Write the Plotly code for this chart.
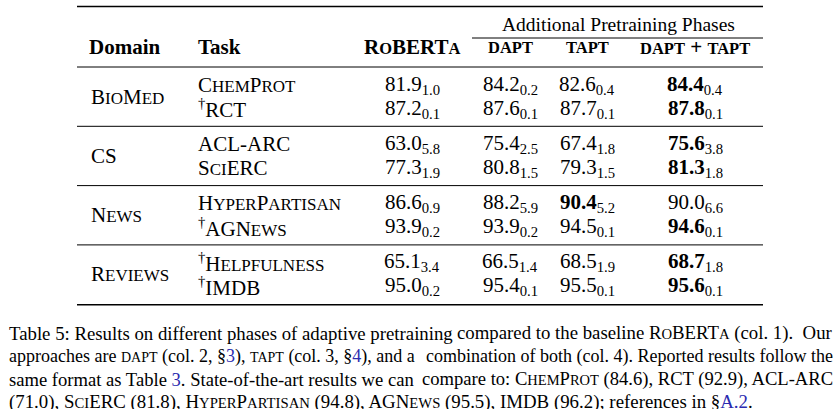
import plotly.graph_objects as go

# ---------------- data ----------------
domains = ["BioMed", "CS", "News", "Reviews"]
tasks = ["ChemProt", "RCT", "ACL-ARC", "SciERC", "HyperPartisan", "AGNews", "Helpfulness", "IMDB"]
task_smallcaps = [True, False, False, True, True, True, True, False]
dagger = [False, True, False, False, False, True, True, True]
columns = ["RoBERTa", "DAPT", "TAPT", "DAPT + TAPT"]
roberta_mean = [81.9, 87.2, 63.0, 77.3, 86.6, 93.9, 65.1, 95.0]
roberta_std = [1.0, 0.1, 5.8, 1.9, 0.9, 0.2, 3.4, 0.2]
dapt_mean = [84.2, 87.6, 75.4, 80.8, 88.2, 93.9, 66.5, 95.4]
dapt_std = [0.2, 0.1, 2.5, 1.5, 5.9, 0.2, 1.4, 0.1]
tapt_mean = [82.6, 87.7, 67.4, 79.3, 90.4, 94.5, 68.5, 95.5]
tapt_std = [0.4, 0.1, 1.8, 1.5, 5.2, 0.1, 1.9, 0.1]
both_mean = [84.4, 87.8, 75.6, 81.3, 90.0, 94.6, 68.7, 95.6]
both_std = [0.4, 0.1, 3.8, 1.8, 6.6, 0.1, 1.8, 0.1]

# ---------------- layout constants ----------------
W, H = 839, 409
FONT = "Liberation Serif, Times New Roman, serif"
FS = 21          # table font size
SC = 17          # small-caps size in table
HSC = 16.5       # small-caps size in header (bold)
GFS = 19.5       # group header size
CSC_RATIO = 0.78 # caption small caps relative size
BLACK = "#000000"
LINK = "#2b2bb0"

x_left, x_right = 77, 763
x_domain, x_task = 87, 196
col_x = [412, 510, 587, 695]
x_group = 618.5
y_top, y_cmid, y_head_group, y_head = 6.5, 38, 24, 47
rule0, group_h = 67, 59.3
row_off = [17.5, 41.5]


def smallcaps(s, small):
    out, run = [], ""
    for ch in s:
        if ch.islower():
            run += ch.upper()
        else:
            if run:
                out.append(f"<span style='font-size:{small}px'>{run}</span>")
                run = ""
            out.append(ch)
    if run:
        out.append(f"<span style='font-size:{small}px'>{run}</span>")
    return "".join(out)


def allsmall(s, small):
    return f"<span style='font-size:{small}px'>{s.upper()}</span>"


fig = go.Figure()
fig.add_trace(go.Scatter(x=[0, W], y=[0, H], mode="markers", marker=dict(opacity=0),
                         hoverinfo="skip", showlegend=False))

ann = []


def add(text, x, y, xanchor="left", size=FS, color=BLACK):
    ann.append(dict(text=text, x=x, y=y, xref="x", yref="y", xanchor=xanchor,
                    yanchor="middle", showarrow=False,
                    font=dict(family=FONT, size=size, color=color)))


# header
add("Additional Pretraining Phases", x_group, y_head_group, "center", GFS)
add("<b>Domain</b>", x_domain, y_head)
add("<b>Task</b>", x_task, y_head)
add("<b>" + smallcaps(columns[0], HSC) + "</b>", col_x[0], y_head, "center")
add("<b>" + allsmall("dapt", HSC) + "</b>", col_x[1], y_head, "center")
add("<b>" + allsmall("tapt", HSC) + "</b>", col_x[2], y_head, "center")
add("<b>" + allsmall("dapt", HSC) + " + " + allsmall("tapt", HSC) + "</b>", col_x[3], y_head, "center")

series = [(roberta_mean, roberta_std), (dapt_mean, dapt_std),
          (tapt_mean, tapt_std), (both_mean, both_std)]

for g, dom in enumerate(domains):
    top = rule0 + g * group_h
    dom_txt = dom if dom == "CS" else smallcaps(dom, SC)
    add(dom_txt, x_domain + 2, top + (row_off[0] + row_off[1]) / 2)
    for r in range(2):
        i = 2 * g + r
        y = top + row_off[r]
        name = smallcaps(tasks[i], SC) if task_smallcaps[i] else tasks[i]
        if dagger[i]:
            name = "<sup>†</sup>" + name
        add(name, x_task, y)
        best = max(s[0][i] for s in series)
        for c, (m, sd) in enumerate(series):
            val = f"{m[i]:.1f}"
            if m[i] == best:
                val = f"<b>{val}</b>"
            add(f"{val}<sub>{sd[i]:.1f}</sub>", col_x[c], y, "center")

# rules
shapes = []


def rule(x0, x1, y, w):
    shapes.append(dict(type="line", xref="x", yref="y", x0=x0, x1=x1, y0=y, y1=y,
                       line=dict(color=BLACK, width=w)))


rule(x_left, x_right, y_top, 1.6)
rule(472, x_right, y_cmid, 1.0)
for g in range(len(domains)):
    rule(x_left, x_right, rule0 + g * group_h, 1.0)
rule(x_left, x_right, rule0 + len(domains) * group_h + 0.5, 1.6)

# caption: justified lines = left chunk at left margin + right chunk at right margin
link = lambda s: f"<span style='color:{LINK}'>{s}</span>"
cap_y = [333, 356, 379, 402]
cap_size = [18.8, 18.0, 18.6, 18.85]
cap_l, cap_r = 7, 835


def cap_lines(cs):
    sc = lambda s: smallcaps(s, round(cs * CSC_RATIO, 1))
    sm = lambda s: allsmall(s, round(cs * CSC_RATIO, 1))
    return cs, sc, sm


caption = []
cs, sc, sm = cap_lines(cap_size[0])
caption.append(("Table 5: Results on different phases of adaptive pretraining",
                "compared to the baseline " + sc("RoBERTa") + " (col. 1).  Our"))
cs, sc, sm = cap_lines(cap_size[1])
caption.append(("approaches are " + sm("dapt") + " (col. 2, §" + link("3") + "), "
                + sm("tapt") + " (col. 3, §" + link("4") + "), and a",
                "combination of both (col. 4). Reported results follow the"))
cs, sc, sm = cap_lines(cap_size[2])
caption.append(("same format as Table " + link("3") + ". State-of-the-art results we can",
                "compare to: " + sc("ChemProt") + " (84.6), RCT (92.9), ACL-ARC"))
cs, sc, sm = cap_lines(cap_size[3])
caption.append(("(71.0), " + sc("SciERC") + " (81.8), " + sc("HyperPartisan") + " (94.8), "
                + sc("AGNews") + " (95.5), IMDB (96.2); references in §" + link("A.2") + ".", None))

for k, (left, right) in enumerate(caption):
    add(left, cap_l, cap_y[k], "left", cap_size[k])
    if right:
        add(right, cap_r, cap_y[k], "right", cap_size[k])

fig.update_layout(
    width=W, height=H, margin=dict(l=0, r=0, t=0, b=0),
    paper_bgcolor="white", plot_bgcolor="white",
    xaxis=dict(range=[0, W], visible=False, fixedrange=True),
    yaxis=dict(range=[H, 0], visible=False, fixedrange=True),
    annotations=ann, shapes=shapes, showlegend=False,
)
fig.write_html("out.html", config={"displayModeBar": False},
               post_script="document.body.style.margin='0';document.body.style.overflow='hidden';")
